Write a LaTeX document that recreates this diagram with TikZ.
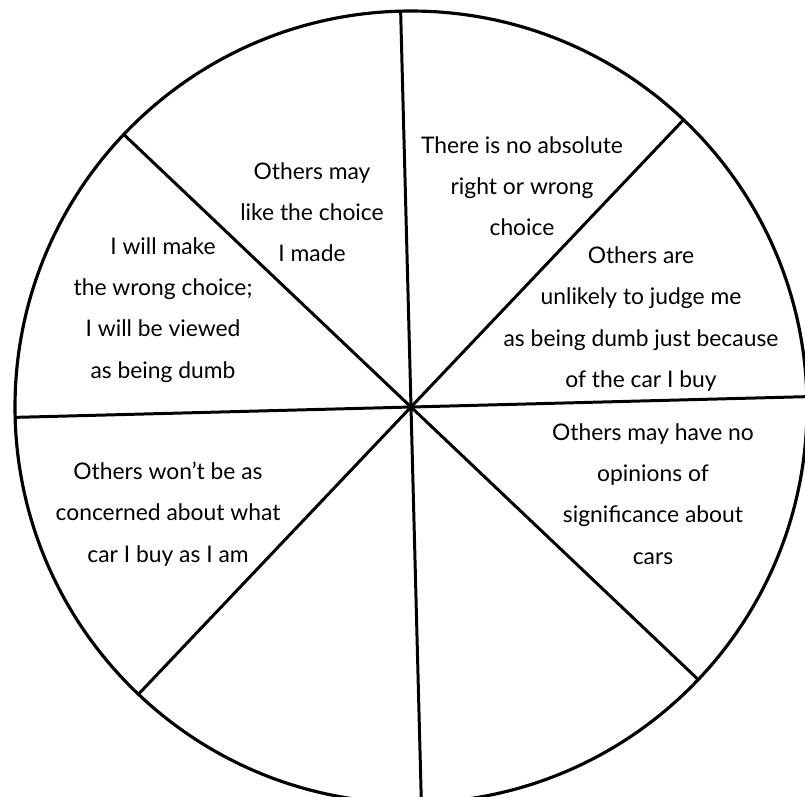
\documentclass[tikz,border=0pt]{standalone}
\usepackage{fontspec}
\setmainfont{Lato}
\usetikzlibrary{calc}
\tikzset{
	rim/.style      ={line width=1.8pt},
	spoke/.style    ={line width=1.7pt},
	slicetext/.style={align=center, font=\fontsize{13}{23.5}\selectfont, inner sep=0pt},
}
\begin{document}
\begin{tikzpicture}[x=0.02cm, y=-0.02cm]
	\useasboundingbox (0,0) rectangle (805,796);
	\clip (0,0) rectangle (805,796);
	\coordinate (ctr) at (411,407);
	% circle and the eight spokes
	\draw[rim] (ctr) circle [radius=396];
	\foreach \k in {0,...,7} {
		\coordinate (r\k) at ($(ctr)+({-1.5-45*\k}:396)$);
		\draw[spoke] (ctr) -- (r\k);
	}
	% slice texts
	\node[slicetext] (madeok)  at (312,212) {Others may\\like the choice\\I made};
	\node[slicetext] (noright) at (522,186) {There is no absolute\\right or wrong\\choice};
	\node[slicetext] (nojudge) at (641,319) {Others are\\unlikely to judge me\\as being dumb just because\\of the car I buy};
	\node[slicetext] (wrong)   at (163,310) {I will make\\the wrong choice;\\I will be viewed\\as being dumb};
	\node[slicetext] (lessconc) at (168,514) {Others won't be as\\concerned about what\\car I buy as I am};
	\node[slicetext] (noopin)  at (653,494) {Others may have no\\opinions of\\significance about\\cars};
\end{tikzpicture}
\end{document}
